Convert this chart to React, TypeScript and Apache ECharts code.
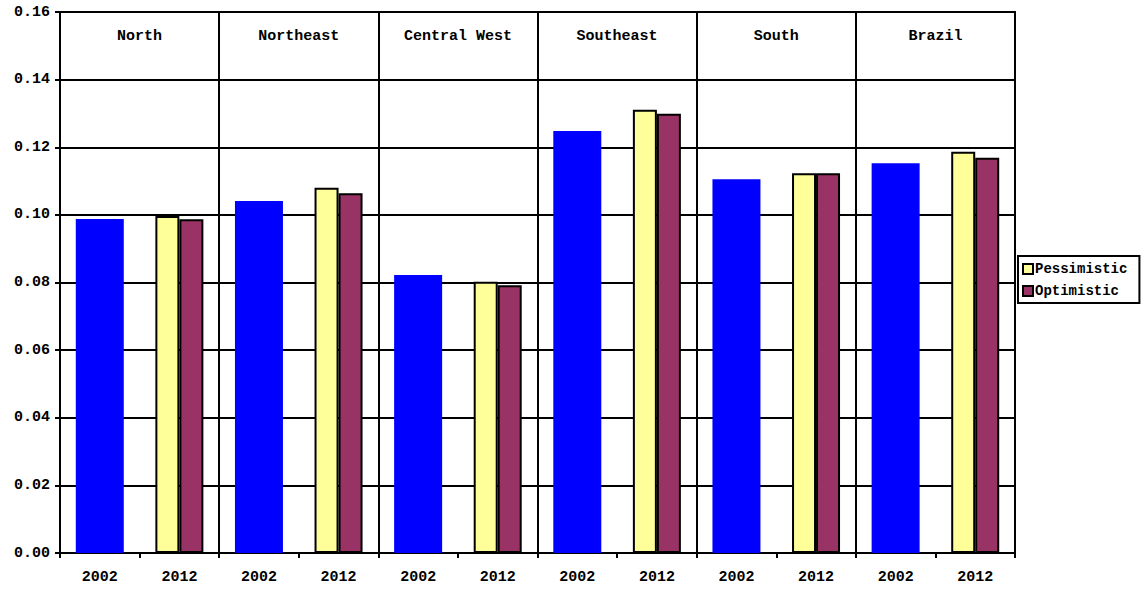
import React, { useEffect, useRef } from "react";
import * as echarts from "echarts";

const regions = ["North", "Northeast", "Central West", "Southeast", "South", "Brazil"];
const years = ["2002", "2012"];
const base2002 = [0.0988, 0.1041, 0.0822, 0.1248, 0.1105, 0.1153];
const pessimistic = [0.0997, 0.108, 0.0802, 0.1311, 0.1123, 0.1187];
const optimistic = [0.0987, 0.1064, 0.0792, 0.1299, 0.1123, 0.1169];
const yTicks = [0, 0.02, 0.04, 0.06, 0.08, 0.1, 0.12, 0.14, 0.16];

const FONT = "'Liberation Mono', 'Courier New', monospace";

export default function App() {
  const ref = useRef<HTMLDivElement>(null);
  useEffect(() => {
    if (!ref.current) return;
    const chart = echarts.init(ref.current, null, { renderer: "svg" });
    const cats: string[] = [];
    regions.forEach(() => years.forEach((y) => cats.push(y)));
    const blue: any[] = [];
    const pess: any[] = [];
    const opt: any[] = [];
    regions.forEach((_, i) => {
      blue.push(base2002[i], "-");
      pess.push("-", pessimistic[i]);
      opt.push("-", optimistic[i]);
    });
    const text = { fontFamily: FONT, fontWeight: "bold", fontSize: 15, color: "#000" };
    chart.setOption({
      animation: false,
      backgroundColor: "#fff",
      grid: {
        left: 60,
        top: 12,
        width: 955,
        height: 541,
        show: true,
        borderColor: "#000",
        borderWidth: 2,
        containLabel: false,
      },
      legend: {
        data: ["Pessimistic", "Optimistic"],
        orient: "vertical",
        left: 1018,
        top: 256,
        padding: [6, 12, 5, 4],
        itemWidth: 10,
        itemHeight: 10,
        itemGap: 8,
        borderColor: "#000",
        borderWidth: 2,
        icon: "rect",
        textStyle: { fontFamily: FONT, fontWeight: "bold", fontSize: 14, color: "#000", padding: [0, 0, 0, -3] },
      },
      xAxis: [
        {
          type: "category",
          data: cats,
          position: "bottom",
          axisLine: { lineStyle: { color: "#000", width: 2 } },
          axisTick: { show: true, interval: 0, length: 5, lineStyle: { color: "#000", width: 2 } },
          axisLabel: { ...text, interval: 0, margin: 17 },
          splitLine: { show: false },
        },
        {
          type: "category",
          data: cats,
          show: false,
        },
        {
          type: "category",
          data: regions,
          position: "top",
          axisLine: { show: false },
          axisTick: { show: false },
          axisLabel: { ...text, inside: true, interval: 0, margin: 17, verticalAlign: "top" },
          splitLine: { show: true, interval: 0, lineStyle: { color: "#000", width: 2 } },
        },
      ],
      yAxis: {
        type: "value",
        min: 0,
        max: yTicks[yTicks.length - 1],
        interval: yTicks[1] - yTicks[0],
        axisLine: { show: true, lineStyle: { color: "#000", width: 2 } },
        axisTick: { show: true, length: 5, lineStyle: { color: "#000", width: 2 } },
        axisLabel: { ...text, margin: 10, formatter: (v: number) => v.toFixed(2) },
        splitLine: { show: true, lineStyle: { color: "#000", width: 2 } },
      },
      series: [
        {
          name: "2002",
          type: "bar",
          xAxisIndex: 0,
          data: blue,
          barWidth: 48,
          itemStyle: { color: "#0000FF" },
        },
        {
          name: "Pessimistic",
          type: "bar",
          xAxisIndex: 1,
          data: pess,
          barWidth: 24,
          barGap: "0%",
          itemStyle: { color: "#FFFF99", borderColor: "#000", borderWidth: 2 },
        },
        {
          name: "Optimistic",
          type: "bar",
          xAxisIndex: 1,
          data: opt,
          barWidth: 24,
          barGap: "0%",
          itemStyle: { color: "#993366", borderColor: "#000", borderWidth: 2 },
        },
      ],
    });
    return () => chart.dispose();
  }, []);
  return (
    <div
      ref={ref}
      style={{ position: "absolute", left: 0, top: 0, width: 1143, height: 592 }}
    />
  );
}
